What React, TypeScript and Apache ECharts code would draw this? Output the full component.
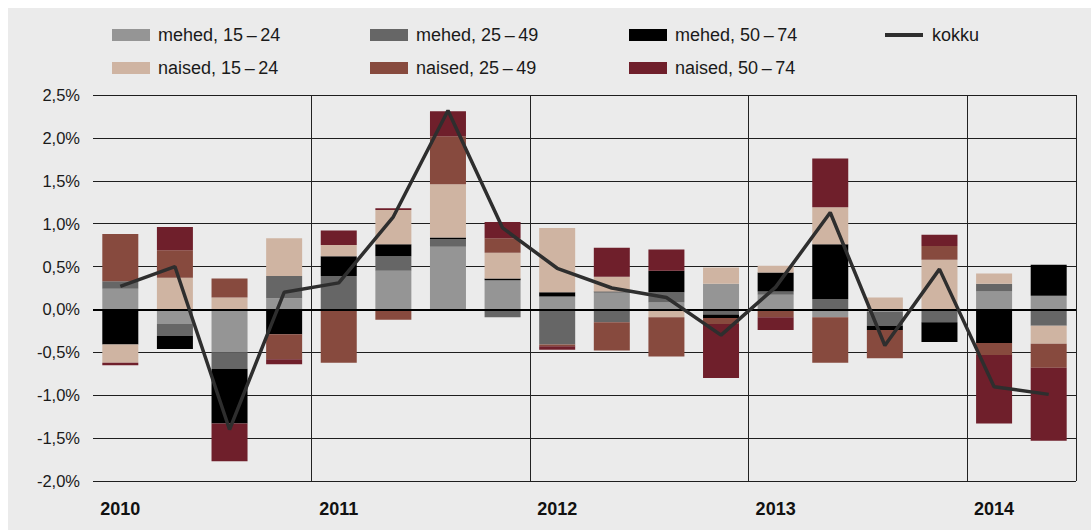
import React, { useEffect, useRef } from "react";
import * as echarts from "echarts";

const categories = [
  "2010 I", "2010 II", "2010 III", "2010 IV",
  "2011 I", "2011 II", "2011 III", "2011 IV",
  "2012 I", "2012 II", "2012 III", "2012 IV",
  "2013 I", "2013 II", "2013 III", "2013 IV",
  "2014 I", "2014 II",
];

const seriesNames = [
  "mehed, 15\u2009\u2013\u200924",
  "mehed, 25\u2009\u2013\u200949",
  "mehed, 50\u2009\u2013\u200974",
  "naised, 15\u2009\u2013\u200924",
  "naised, 25\u2009\u2013\u200949",
  "naised, 50\u2009\u2013\u200974",
];
const lineName = "kokku";

const mehed1524 = [0.24, -0.17, -0.50, 0.13, 0, 0.45, 0.73, 0.34, 0.15, 0.20, 0.08, 0.30, 0.17, -0.09, -0.03, 0, 0.21, 0.16];
const mehed2549 = [0.09, -0.14, -0.19, 0.26, 0.39, 0.17, 0.09, -0.09, -0.41, -0.15, 0.12, -0.06, 0.04, 0.12, -0.16, -0.15, 0.09, -0.19];
const mehed5074 = [-0.41, -0.15, -0.64, -0.29, 0.23, 0.14, 0.02, 0.02, 0.05, 0.01, 0.25, -0.04, 0.22, 0.64, -0.05, -0.23, -0.39, 0.36];
const naised1524 = [-0.21, 0.37, 0.14, 0.44, 0.13, 0.40, 0.62, 0.30, 0.75, 0.17, -0.09, 0.19, 0.08, 0.43, 0.14, 0.58, 0.12, -0.21];
const naised2549 = [0.55, 0.32, 0.22, -0.29, -0.62, -0.12, 0.56, 0.17, -0.02, -0.33, -0.46, -0.07, -0.09, -0.53, -0.33, 0.16, -0.14, -0.28];
const naised5074 = [-0.03, 0.27, -0.44, -0.06, 0.17, 0.02, 0.29, 0.19, -0.04, 0.34, 0.25, -0.63, -0.15, 0.57, 0, 0.13, -0.80, -0.85];
const kokku = [0.27, 0.50, -1.40, 0.20, 0.31, 1.08, 2.32, 0.95, 0.48, 0.25, 0.14, -0.30, 0.26, 1.13, -0.42, 0.47, -0.90, -0.99];

const barData = [mehed1524, mehed2549, mehed5074, naised1524, naised2549, naised5074];
const barColors = ["#959595", "#666666", "#000000", "#cfb4a2", "#874a3e", "#6f1f2b"];
const lineColor = "#2e2e2e";

const yMin = -2;
const yMax = 2.5;
const yStep = 0.5;

const FONT = "'Liberation Sans', Arial, Helvetica, sans-serif";

export default function App() {
  const ref = useRef<HTMLDivElement>(null);

  useEffect(() => {
    if (!ref.current) return;
    const chart = echarts.init(ref.current, undefined, { renderer: "svg" });

    const legendPos = [
      { left: 104, top: 18 },
      { left: 362, top: 18 },
      { left: 621, top: 18 },
      { left: 104, top: 51 },
      { left: 362, top: 51 },
      { left: 621, top: 51 },
    ];

    const legends: any[] = seriesNames.map((n, i) => ({
      data: [n],
      left: legendPos[i].left,
      top: legendPos[i].top,
      icon: "rect",
      itemWidth: 38,
      itemHeight: 12,
      padding: 0,
      selectedMode: false,
      textStyle: { fontFamily: FONT, fontSize: 18, color: "#1a1a1a", padding: [0, 0, 0, 3] },
    }));
    legends.push({
      data: [lineName],
      left: 877,
      top: 18,
      icon: "rect",
      itemWidth: 38,
      itemHeight: 4,
      padding: 0,
      selectedMode: false,
      textStyle: { fontFamily: FONT, fontSize: 18, color: "#1a1a1a", padding: [0, 0, 0, 4] },
    });

    const series: any[] = seriesNames.map((n, i) => ({
      name: n,
      type: "bar",
      stack: "total",
      barWidth: 36,
      data: barData[i],
      itemStyle: { color: barColors[i] },
    }));
    series.push({
      name: lineName,
      type: "line",
      data: kokku,
      showSymbol: false,
      symbol: "none",
      itemStyle: { color: lineColor },
      lineStyle: { color: lineColor, width: 3.5 },
      z: 5,
      markLine: {
        silent: true,
        symbol: "none",
        label: { show: false },
        lineStyle: { color: "#000", width: 2, type: "solid" },
        data: [{ yAxis: 0 }],
        z: 4,
      },
    });

    chart.setOption({
      animation: false,
      backgroundColor: "#ebebeb",
      legend: legends,
      grid: { left: 85, right: 15, top: 87, bottom: 49, containLabel: false },
      xAxis: {
        type: "category",
        data: categories,
        boundaryGap: true,
        axisLine: { show: false },
        axisTick: { show: false },
        axisLabel: {
          interval: (i: number) => i % 4 === 0,
          formatter: (v: string) => v.split(" ")[0],
          fontFamily: FONT,
          fontSize: 18,
          fontWeight: "bold",
          color: "#111",
          margin: 19,
        },
        splitLine: {
          show: true,
          interval: (i: number) => i % 4 === 0 && i > 0,
          lineStyle: { color: "#222", width: 1 },
        },
      },
      yAxis: {
        type: "value",
        min: yMin,
        max: yMax,
        interval: yStep,
        axisLine: { show: false },
        axisTick: { show: false },
        axisLabel: {
          formatter: (v: number) => v.toFixed(1).replace(".", ",") + "%",
          fontFamily: FONT,
          fontSize: 16.5,
          color: "#1a1a1a",
          margin: 13,
        },
        splitLine: { show: true, lineStyle: { color: "#1e1e1e", width: 1 } },
      },
      series,
    });

    return () => chart.dispose();
  }, []);

  return (
    <div
      ref={ref}
      style={{ position: "absolute", left: 8, top: 8, width: 1083, height: 522 }}
    />
  );
}
